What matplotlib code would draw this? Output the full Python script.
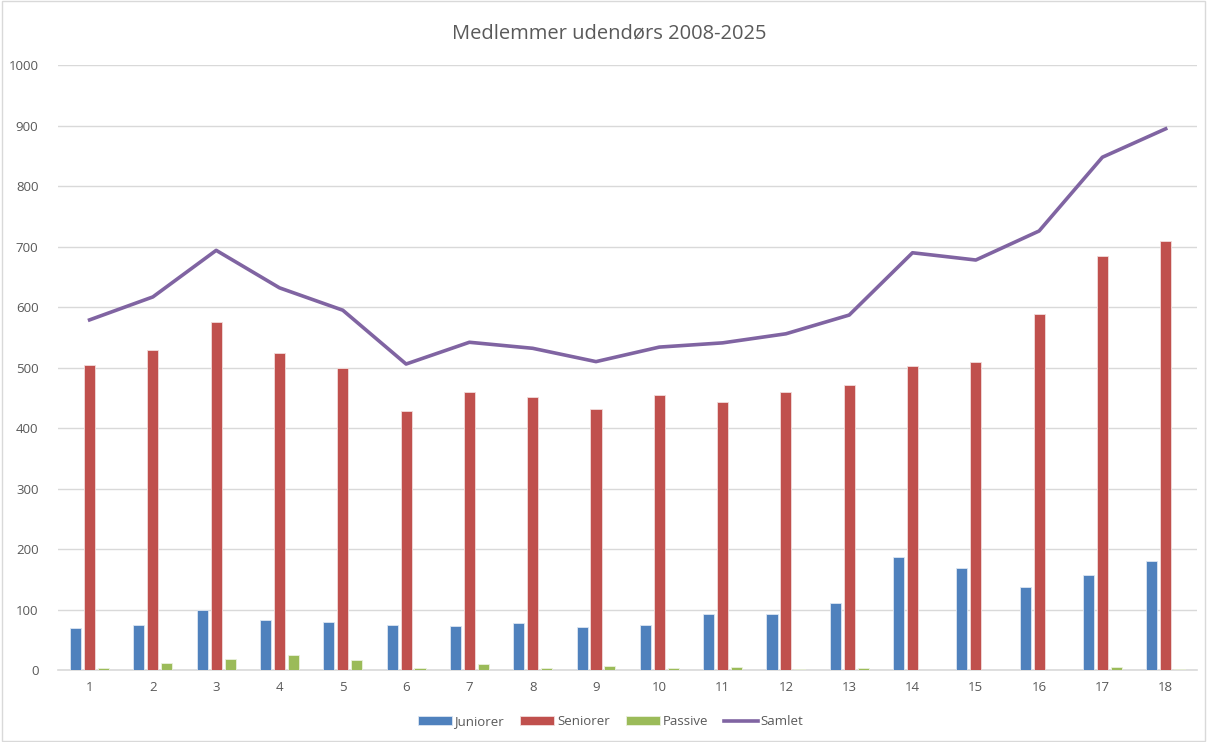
import numpy as np
import matplotlib.pyplot as plt
from matplotlib.patches import Rectangle

plt.rcParams['font.family'] = ['Open Sans', 'DejaVu Sans']

categories = [str(i) for i in range(1, 19)]
juniorer = [69, 74, 99, 82, 80, 74, 72, 77, 71, 75, 92, 93, 111, 187, 168, 137, 157, 181]
seniorer = [504, 530, 575, 525, 499, 428, 459, 451, 431, 454, 443, 460, 472, 502, 509, 588, 685, 710]
passive = [4, 12, 19, 25, 16, 3, 10, 3, 7, 4, 5, 2, 3, 0, 0, 0, 5, 2]
samlet = [579, 617, 694, 632, 595, 506, 542, 532, 510, 534, 541, 556, 587, 690, 678, 726, 848, 895]

x = np.arange(1, len(categories) + 1)
w = 0.175
off = 0.22

fig = plt.figure(figsize=(12.07, 7.42), dpi=100)
ax = fig.add_axes([0.048, 0.097, 0.944, 0.815])

b1 = ax.bar(x - off, juniorer, w, color="#4F81BD", edgecolor="#DCE6F2", linewidth=0.6, label="Juniorer", zorder=3)
b2 = ax.bar(x, seniorer, w, color="#C0504D", edgecolor="#F2DCDB", linewidth=0.6, label="Seniorer", zorder=3)
b3 = ax.bar(x + off, passive, w, color="#9BBB59", edgecolor="#EBF1DE", linewidth=0.6, label="Passive", zorder=3)
l1, = ax.plot(x, samlet, color="#8064A2", linewidth=2.6, label="Samlet", zorder=4)

ax.set_xlim(0.5, 18.5)
ax.set_ylim(0, 1000)
ax.set_yticks(range(0, 1001, 100))
ax.set_xticks(x)
ax.set_xticklabels(categories)
ax.yaxis.grid(True, color="#D9D9D9", linewidth=1)
ax.set_axisbelow(True)
for s in ["top", "right", "left"]:
    ax.spines[s].set_visible(False)
ax.spines["bottom"].set_color("#D9D9D9")
ax.spines["bottom"].set_linewidth(1.2)
ax.tick_params(axis="both", length=0, labelsize=9.5, labelcolor="#595959")
ax.tick_params(axis="x", pad=8)
ax.tick_params(axis="y", pad=14)

fig.suptitle("Medlemmer udendørs 2008-2025", x=0.505, y=0.968, fontsize=14.5, color="#595959")

ax.legend([b1, b2, b3, l1], ["Juniorer", "Seniorer", "Passive", "Samlet"],
          loc="upper center", bbox_to_anchor=(0.485, -0.055), ncol=4, frameon=False,
          fontsize=9.5, labelcolor="#595959", handlelength=2.6, handleheight=0.6,
          columnspacing=1.2, handletextpad=0.2)

fig.patches.append(Rectangle((0.002, 0.002), 0.996, 0.996, transform=fig.transFigure,
                             fill=False, edgecolor="#D9D9D9", linewidth=1))

fig.savefig("out.png", dpi=100)
